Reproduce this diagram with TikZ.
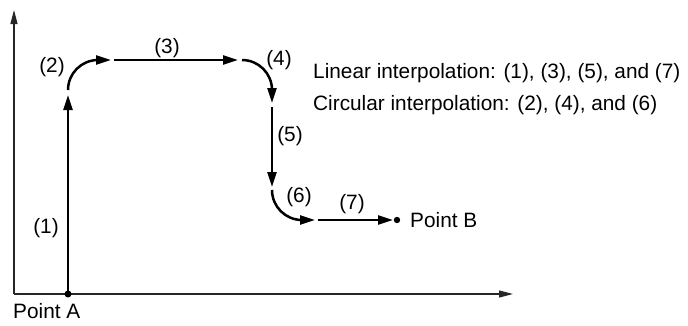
\documentclass[tikz,border=0pt]{standalone}
\usepackage{fontspec}
\setmainfont{Liberation Sans}
\usetikzlibrary{arrows.meta}

\begin{document}
\begin{tikzpicture}[x=1pt, y=1pt,
    track/.style={line width=2.5pt, -{Triangle[length=15pt,width=9pt]}},
    axis/.style={line width=1.3pt, black!85, -{Triangle[length=14pt,width=7pt]}},
    lbl/.style={font=\fontsize{20.8}{24}\selectfont, inner sep=0pt}]
    \useasboundingbox (0,0) rectangle (688,325);

    % 绘制坐标轴
    \coordinate (O) at (14,31);
    \coordinate (ytop) at (14,315);
    \coordinate (xend) at (513,31);
    \draw[axis] (O) -- (ytop);
    \draw[axis] (O) -- (xend);

    % 路径上的各个点
    \coordinate (A) at (68,31);
    \coordinate (p1) at (68,230);
    \coordinate (p2s) at (68,235);
    \coordinate (p2) at (111,265);
    \coordinate (p3s) at (114,265);
    \coordinate (p3) at (238,265);
    \coordinate (p4s) at (242,265);
    \coordinate (p4) at (272,222);
    \coordinate (p5s) at (272,218);
    \coordinate (p5) at (272,138);
    \coordinate (p6s) at (272,135);
    \coordinate (p6) at (315,105);
    \coordinate (p7s) at (318,105);
    \coordinate (B) at (393,105);

    % 直线插补 (1) (3) (5) (7)
    \draw[track] (A) -- (p1);
    \draw[track] (p3s) -- (p3);
    \draw[track] (p5s) -- (p5);
    \draw[track] (p7s) -- (B);

    % 圆弧插补 (2) (4) (6)
    \draw[track] (p2s) arc[start angle=180, end angle=90, radius=30] -- (p2);
    \draw[track] (p4s) arc[start angle=90, end angle=0, radius=30] -- (p4);
    \draw[track] (p6s) arc[start angle=180, end angle=270, radius=30] -- (p6);

    % 起点和终点
    \fill (A) circle (3.5);
    \fill (397,105) circle (3.2);
    \node[lbl, anchor=base west] (ptA) at (13,7) {Point A};
    \node[lbl, anchor=base west] (ptB) at (410,98) {Point B};

    % 各段编号
    \foreach \n/\x/\y in {1/46/97, 2/52/258, 3/167/277, 4/279/265,
                          5/290/189, 6/299/128, 7/352/121} {
        \node[lbl] (n\n) at (\x,\y) {(\n)};
    }

    % 说明文字
    \node[lbl, anchor=base west] (lin) at (313,247)
        {Linear interpolation: (1), (3), (5), and (7)};
    \node[lbl, anchor=base west] (circ) at (313,215)
        {Circular interpolation: (2), (4), and (6)};
\end{tikzpicture}
\end{document}
